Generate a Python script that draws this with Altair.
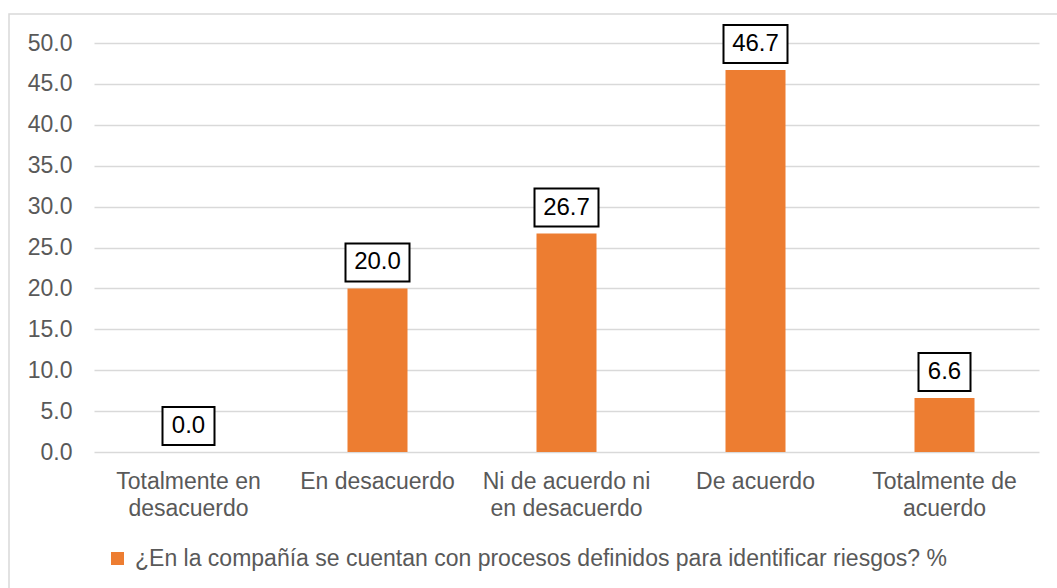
import altair as alt
import pandas as pd

categories = [
    "Totalmente en desacuerdo",
    "En desacuerdo",
    "Ni de acuerdo ni en desacuerdo",
    "De acuerdo",
    "Totalmente de acuerdo",
]
label_lines = [
    ["Totalmente en", "desacuerdo"],
    ["En desacuerdo"],
    ["Ni de acuerdo ni", "en desacuerdo"],
    ["De acuerdo"],
    ["Totalmente de", "acuerdo"],
]
values = [0.0, 20.0, 26.7, 46.7, 6.6]
series_name = "¿En la compañía se cuentan con procesos definidos para identificar riesgos? %"
y_ticks = [0, 5, 10, 15, 20, 25, 30, 35, 40, 45, 50]

df = pd.DataFrame({"cat": categories, "val": values, "series": series_name})
df["lbl"] = df["val"].map(lambda v: f"{v:.1f}")

FONT = "Liberation Sans"
ORANGE = "#ED7D31"
GREY_TXT = "#595959"
GRID = "#D9D9D9"

# multi-line label expression
expr = "datum.label"
for c, lines in reversed(list(zip(categories, label_lines))):
    arr = "[" + ",".join("'" + l + "'" for l in lines) + "]"
    expr = f"datum.label == '{c}' ? {arr} : ({expr})"

x_enc = alt.X(
    "cat:N",
    sort=categories,
    scale=alt.Scale(paddingInner=0.68, paddingOuter=0.34),
    axis=alt.Axis(
        title=None,
        labelAngle=0,
        labelExpr=expr,
        labelFont=FONT,
        labelFontSize=23,
        labelColor=GREY_TXT,
        labelLineHeight=27,
        labelPadding=18,
        labelLimit=0,
        domain=False,
        ticks=False,
        grid=False,
    ),
)
y_enc = alt.Y(
    "val:Q",
    scale=alt.Scale(domain=[0, 50], nice=False),
    axis=alt.Axis(
        title=None,
        values=y_ticks,
        format=".1f",
        labelFont=FONT,
        labelFontSize=23,
        labelColor=GREY_TXT,
        labelPadding=22,
        domain=False,
        ticks=False,
        gridColor=GRID,
        gridWidth=1.5,
    ),
)

base = alt.Chart(df)

bars = base.mark_bar(size=60).encode(
    x=x_enc,
    y=y_enc,
    color=alt.Color(
        "series:N",
        scale=alt.Scale(domain=[series_name], range=[ORANGE]),
        legend=alt.Legend(
            title=None,
            orient="none",
            legendX=12,
            legendY=504,
            direction="horizontal",
            symbolType="square",
            symbolSize=169,
            symbolStrokeWidth=0,
            labelFont=FONT,
            labelFontSize=23,
            labelColor=GREY_TXT,
            labelOffset=6,
            labelLimit=0,
        ),
    ),
)

box_wide = "M-1,-0.594L1,-0.594L1,0.594L-1,0.594Z"
box_narrow = "M-1,-0.731L1,-0.731L1,0.731L-1,0.731Z"

boxes4 = base.transform_filter("length(datum.lbl) > 3").mark_point(
    shape=box_wide, size=64 * 64, filled=True, fill="white", stroke="black",
    strokeWidth=2, opacity=1, yOffset=-26,
).encode(x=x_enc, y=y_enc)

boxes3 = base.transform_filter("length(datum.lbl) <= 3").mark_point(
    shape=box_narrow, size=52 * 52, filled=True, fill="white", stroke="black",
    strokeWidth=2, opacity=1, yOffset=-26,
).encode(x=x_enc, y=y_enc)

texts = base.mark_text(
    font=FONT, fontSize=24, color="black", baseline="middle", align="center", yOffset=-26,
).encode(x=x_enc, y=y_enc, text="lbl:N")

border = alt.Chart(alt.Data(values=[{"a": 1}])).mark_rect(
    fill=None, stroke=GRID, strokeWidth=1.5
).encode(
    x=alt.value(-85), x2=alt.value(1000), y=alt.value(-29), y2=alt.value(600)
)

chart = alt.layer(border, bars, boxes4, boxes3, texts).properties(
    width=945,
    height=409,
    background="white",
    autosize=alt.AutoSizeParams(type="none"),
    padding={"left": 94, "top": 43, "right": 18, "bottom": 136},
).configure_view(stroke=None).configure_axis(domain=False, ticks=False)

chart.save("out.html", embed_options={"renderer": "svg", "actions": False})
